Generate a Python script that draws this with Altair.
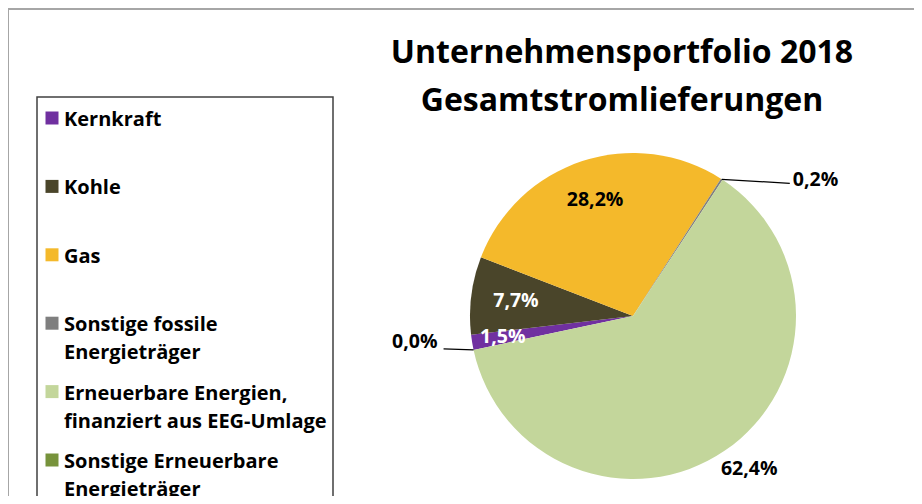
import math
import altair as alt
import pandas as pd

# ---------------- data ----------------
categories = [
    "Kernkraft",
    "Kohle",
    "Gas",
    "Sonstige fossile Energieträger",
    "Erneuerbare Energien, finanziert aus EEG-Umlage",
    "Sonstige Erneuerbare Energieträger",
]
legend_labels = [
    "Kernkraft",
    "Kohle",
    "Gas",
    "Sonstige fossile\nEnergieträger",
    "Erneuerbare Energien,\nfinanziert aus EEG-Umlage",
    "Sonstige Erneuerbare\nEnergieträger",
]
shares = [1.5, 7.7, 28.2, 0.2, 62.4, 0.0]
share_labels = ["1,5%", "7,7%", "28,2%", "0,2%", "62,4%", "0,0%"]
colors = ["#7030A0", "#4A452A", "#F4B92B", "#7F7F7F", "#C3D69B", "#77933C"]
title_lines = ["Unternehmensportfolio 2018", "Gesamtstromlieferungen"]

# ---------------- layout ----------------
W, H = 906, 488
CX, CY, R = 625, 308, 163
START = math.radians(258.0)
FONT = "Open Sans"
LABEL_SIZE = 19.5

df = pd.DataFrame({
    "cat": categories,
    "legend": legend_labels,
    "share": shares,
    "label": share_labels,
    "idx": list(range(len(categories))),
})
one = pd.DataFrame({"k": [0]})

base = alt.Chart(df)
theta = alt.Theta("share:Q", stack=True,
                  scale=alt.Scale(range=[START, START + 2 * math.pi]))
order = alt.Order("idx:Q", sort="ascending")
color = alt.Color("cat:N", scale=alt.Scale(domain=categories, range=colors), legend=None)

pie = base.mark_arc(radius=R, x=CX, y=CY).encode(theta=theta, order=order, color=color)


def slice_label(cat, radius, fill, dx=0, dy=0):
    return base.transform_calculate(
        t=f"datum.cat == '{cat}' ? datum.label : ''"
    ).mark_text(
        radius=radius, x=CX, y=CY, font=FONT, fontSize=LABEL_SIZE, fontWeight="bold",
        color=fill, align="center", baseline="middle", dx=dx, dy=dy,
    ).encode(theta=theta, order=order, text="t:N")


lab_gas = slice_label("Gas", 122, "black")
lab_kohle = slice_label("Kohle", 118, "white")
lab_kern = slice_label("Kernkraft", 132, "white")
lab_ee = slice_label(categories[4], 192, "black", dx=8, dy=-6)

geo = base.transform_window(
    cum="sum(share)", sort=[alt.SortField("idx", order="ascending")], frame=[None, 0]
).transform_joinaggregate(
    total="sum(share)"
).transform_calculate(
    a=f"{START} + 2*PI*(datum.cum - datum.share/2)/datum.total"
).transform_calculate(
    ex=f"{CX} + {R}*sin(datum.a)", ey=f"{CY} - {R}*cos(datum.a)"
)


def leader(cat, length, drop, align, tdx, tdy):
    g = geo.transform_filter(f"datum.cat == '{cat}'").transform_calculate(
        lx=f"datum.ex + ({length})", ly=f"datum.ey + ({drop})"
    )
    line = g.mark_rule(color="black", strokeWidth=1.2).encode(
        x=alt.X("ex:Q", scale=None), y=alt.Y("ey:Q", scale=None),
        x2="lx:Q", y2="ly:Q",
    )
    txt = g.mark_text(
        font=FONT, fontSize=LABEL_SIZE, fontWeight="bold", color="black",
        align=align, baseline="middle", dx=tdx, dy=tdy,
    ).encode(x=alt.X("lx:Q", scale=None), y=alt.Y("ly:Q", scale=None), text="label:N")
    return line + txt


lead_fossil = leader(categories[3], 68, 4, "left", 3, -3)
lead_see = leader(categories[5], -30, -1, "right", -6, -7)

# legend
leg_y = alt.Y("idx:Q", scale=alt.Scale(domain=[0, 5], range=[102, 444], nice=False, zero=False), axis=None)
legend_sq = base.mark_square(size=169, opacity=1, x=44, yOffset=8).encode(y=leg_y, color=color)
legend_tx = base.mark_text(
    x=56, align="left", baseline="top", lineBreak="\n", lineHeight=28,
    font=FONT, fontSize=20, fontWeight="bold", color="black",
).encode(y=leg_y, text="legend:N")

legend_box = alt.Chart(one).mark_rect(fillOpacity=0, stroke="#404040", strokeWidth=1.5).encode(
    x=alt.value(29), x2=alt.value(325), y=alt.value(89), y2=alt.value(H + 30)
)

frame_top = alt.Chart(one).mark_rule(color="#A6A6A6", strokeWidth=2).encode(
    x=alt.value(0), x2=alt.value(W), y=alt.value(1)
)
frame_left = alt.Chart(one).mark_rule(color="#A6A6A6", strokeWidth=2).encode(
    x=alt.value(0), y=alt.value(0), y2=alt.value(H)
)

title1 = alt.Chart(one).mark_text(
    text=title_lines[0], x=614, y=55, font=FONT, fontSize=32, fontWeight="bold",
    align="center", baseline="alphabetic", color="black",
)
title2 = alt.Chart(one).mark_text(
    text=title_lines[1], x=614, y=103, font=FONT, fontSize=32, fontWeight="bold",
    align="center", baseline="alphabetic", color="black",
)

chart = alt.layer(
    legend_box, frame_top, frame_left, pie,
    lab_gas, lab_kohle, lab_kern, lab_ee,
    lead_fossil, lead_see,
    legend_sq, legend_tx, title1, title2,
).properties(
    width=W, height=H, padding=0, autosize=alt.AutoSizeParams(type="none"),
    background="white",
).configure_view(stroke=None)

chart.save("out.html", embed_options={"renderer": "svg", "actions": False})
